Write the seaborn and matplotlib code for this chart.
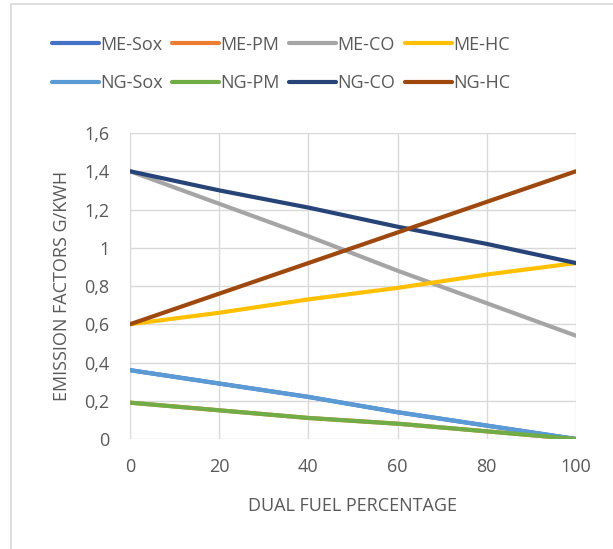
import matplotlib
matplotlib.use("Agg")
import matplotlib.pyplot as plt
from matplotlib.lines import Line2D
from matplotlib.ticker import FuncFormatter
import seaborn as sns
import pandas as pd

sns.set_theme(style="white")
plt.rcParams['font.family'] = ['Open Sans', 'DejaVu Sans']

dual_fuel = [0, 20, 40, 60, 80, 100]
series_names = ["ME-Sox", "ME-PM", "ME-CO", "ME-HC", "NG-Sox", "NG-PM", "NG-CO", "NG-HC"]
me_sox = [0.36, 0.29, 0.22, 0.14, 0.07, 0.0]
me_pm = [0.19, 0.15, 0.11, 0.08, 0.04, 0.0]
me_co = [1.40, 1.23, 1.06, 0.88, 0.71, 0.54]
me_hc = [0.60, 0.66, 0.73, 0.79, 0.86, 0.92]
ng_sox = [0.36, 0.29, 0.22, 0.14, 0.07, 0.0]
ng_pm = [0.19, 0.15, 0.11, 0.08, 0.04, 0.0]
ng_co = [1.40, 1.30, 1.21, 1.11, 1.02, 0.92]
ng_hc = [0.60, 0.76, 0.92, 1.08, 1.24, 1.40]
colors = ["#4472C4", "#ED7D31", "#A5A5A5", "#FFC000",
          "#5B9BD5", "#70AD47", "#264478", "#9E480E"]

values = [me_sox, me_pm, me_co, me_hc, ng_sox, ng_pm, ng_co, ng_hc]
rows = []
for name, vals in zip(series_names, values):
    for x, v in zip(dual_fuel, vals):
        rows.append({"x": x, "y": v, "series": name})
df = pd.DataFrame(rows)

fig = plt.figure(figsize=(6.13, 5.49), dpi=100)
ax = fig.add_axes([130/613, 1-439/549, (576-130)/613, (439-133)/549])

sns.lineplot(data=df, x="x", y="y", hue="series", hue_order=series_names,
             palette=dict(zip(series_names, colors)), linewidth=3.0,
             legend=False, ax=ax, sort=False)

ax.set_xlim(0, 100)
ax.set_ylim(0, 1.6)
ax.set_xticks([0, 20, 40, 60, 80, 100])
ax.set_yticks([0, 0.2, 0.4, 0.6, 0.8, 1.0, 1.2, 1.4, 1.6])
ax.yaxis.set_major_formatter(FuncFormatter(lambda v, p: f"{v:g}".replace(".", ",")))
ax.grid(True, color="#d9d9d9", linewidth=1)
ax.set_axisbelow(True)
for s in ax.spines.values():
    s.set_visible(False)
ax.tick_params(axis="both", length=0, labelsize=13, colors="#595959")
ax.tick_params(axis="y", pad=15)
ax.tick_params(axis="x", pad=14)
ax.set_xlabel("DUAL FUEL PERCENTAGE", fontsize=13, color="#595959", labelpad=15)
ax.set_ylabel("EMISSION FACTORS G/KWH", fontsize=13, color="#595959", labelpad=9)

order = [0, 4, 1, 5, 2, 6, 3, 7]
handles = [Line2D([], [], color=colors[i], lw=3.0) for i in order]
labels = [series_names[i] for i in order]
fig.legend(handles, labels, loc="center", bbox_to_anchor=(281/613, 1-64/549),
           ncol=4, frameon=False, fontsize=13, handlelength=2.6, handletextpad=0.05,
           columnspacing=0.55, labelspacing=1.15, labelcolor="#595959")

# outer border
fig.add_artist(Line2D([11/613, 1], [1-4/549, 1-4/549], transform=fig.transFigure,
                      color="#d9d9d9", lw=1.2))
fig.add_artist(Line2D([11/613, 11/613], [0, 1-4/549], transform=fig.transFigure,
                      color="#d9d9d9", lw=1.2))

fig.savefig("out.png", dpi=100)
